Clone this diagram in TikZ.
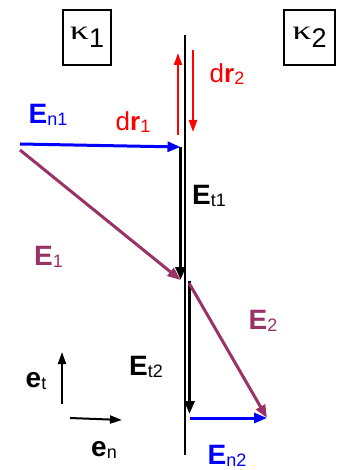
\documentclass[tikz,border=0pt]{standalone}
\usepackage{fontspec}
\setmainfont{Liberation Sans}
\newfontfamily\kserif{Liberation Serif}
\usetikzlibrary{arrows.meta}
\definecolor{vblue}{RGB}{0,0,255}
\definecolor{vred}{RGB}{255,0,0}
\definecolor{vpurple}{RGB}{153,51,102}
\newcommand{\lowsub}[1]{\raisebox{-0.4ex}{\fontsize{18}{18}\selectfont #1}}
\newcommand{\vecE}[1]{{\fontsize{28}{28}\selectfont\bfseries E}\lowsub{#1}}
\newcommand{\unitE}[1]{{\fontsize{28}{28}\selectfont\bfseries e}\lowsub{#1}}
\newcommand{\dvec}[1]{{\fontsize{26}{26}\selectfont d\textbf{r}}\lowsub{#1}}
\newcommand{\kap}[1]{{\fontsize{27}{27}\selectfont\scalebox{1.4}[1]{\kserif κ}\raisebox{-8pt}{#1}}}
\begin{document}
\begin{tikzpicture}[x=1pt,y=-1pt,
  vec/.style={line width=3pt,-{Triangle[length=13pt,width=10pt]}},
  thin vec/.style={line width=2pt,-{Triangle[length=12pt,width=8pt]}},
  lbl/.style={inner sep=0pt,anchor=center},
  kbox/.style={draw,line width=1.3pt,minimum height=55pt,inner sep=0pt}]
\useasboundingbox (0,0) rectangle (343,470);

% interface
\coordinate (itop) at (185,35);
\coordinate (ibot) at (185,455);
\draw[line width=1.6pt] (itop) -- (ibot);

% media boxes
\node[kbox,minimum width=48pt] (k1) at (87,37.5) {\kap{1}};
\node[kbox,minimum width=51pt] (k2) at (309.5,37.5) {\kap{2}};

% dr arrows
\coordinate (dr1a) at (178,135);
\coordinate (dr1b) at (178,53);
\coordinate (dr2a) at (193,50);
\coordinate (dr2b) at (193,132);
\draw[thin vec,vred] (dr1a) -- (dr1b);
\draw[thin vec,vred] (dr2a) -- (dr2b);
\node[lbl,text=vred] (ldr1) at (133,122) {\dvec{1}};
\node[lbl,text=vred] (ldr2) at (227,74) {\dvec{2}};

% field vectors, medium 1
\coordinate (o1) at (20,144);
\coordinate (p1) at (180.5,147);
\coordinate (q1) at (180.5,280);
\coordinate (s1) at (20,150);
\draw[vec,vblue] (o1) -- (p1);
\draw[vec,black] (p1) -- (q1);
\draw[vec,vpurple] (s1) -- (q1);
\node[lbl,text=vblue] (lEn1) at (48,115) {\vecE{n1}};
\node[lbl] (lEt1) at (209,196) {\vecE{t1}};
\node[lbl,text=vpurple] (lE1) at (48.5,257) {\vecE{1}};

% field vectors, medium 2
\coordinate (o2) at (189.5,281);
\coordinate (e2) at (189,283);
\coordinate (q2) at (189.5,414);
\coordinate (p2) at (190,418);
\coordinate (r2) at (267,418);
\draw[vec,black] (o2) -- (q2);
\draw[vec,vpurple] (e2) -- (r2);
\draw[vec,vblue] (p2) -- (r2);
\node[lbl,text=vpurple] (lE2) at (263,320.5) {\vecE{2}};
\node[lbl] (lEt2) at (146,367) {\vecE{t2}};
\node[lbl,text=vblue] (lEn2) at (227,455.5) {\vecE{n2}};

% unit vectors
\coordinate (et0) at (62,404);
\coordinate (et1) at (62,352);
\coordinate (en0) at (70,418);
\coordinate (en1) at (122,420);
\draw[thin vec] (et0) -- (et1);
\draw[thin vec] (en0) -- (en1);
\node[lbl] (let) at (36,381) {\unitE{t}};
\node[lbl] (len) at (104,450) {\unitE{n}};
\end{tikzpicture}
\end{document}
